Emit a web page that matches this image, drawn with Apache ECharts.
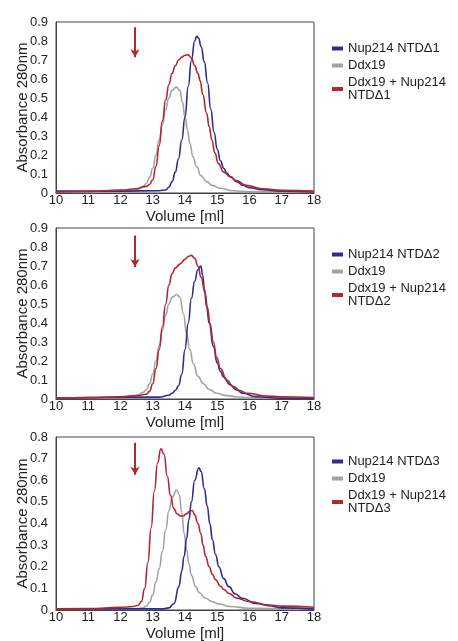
<!DOCTYPE html>
<html>
<head>
    <meta charset="utf-8">
    <title>Ddx19 / Nup214 NTD gel filtration</title>
    <script type="text/javascript" src="https://cdn.jsdelivr.net/npm/echarts@6/dist/echarts.min.js"></script>
    <style>
        html, body { margin: 0; padding: 0; background: #fff; }
    </style>
</head>
<body>
    <div id="main" style="width: 458px;height:641px;"></div>
<script>
    // 三个面板的色谱曲线 [体积 ml, 吸光度]
    var nup1 = [[10,0.01],[12,0.01],[13.2,0.012],[13.4,0.016],[13.5,0.03],[13.6,0.06],[13.7,0.11],[13.8,0.18],[13.9,0.28],[14.0,0.4],[14.1,0.56],[14.2,0.7],[14.3,0.8],[14.36,0.825],[14.42,0.815],[14.5,0.77],[14.6,0.69],[14.7,0.58],[14.8,0.44],[14.9,0.32],[15.0,0.23],[15.1,0.17],[15.2,0.13],[15.3,0.105],[15.4,0.086],[15.6,0.06],[15.8,0.04],[16.0,0.028],[16.4,0.018],[17,0.01],[18,0.006]];
    var ddx1 = [[10,0.005],[12,0.005],[12.3,0.01],[12.5,0.018],[12.7,0.035],[12.8,0.05],[12.9,0.08],[13.0,0.13],[13.1,0.2],[13.2,0.28],[13.3,0.36],[13.4,0.44],[13.5,0.5],[13.6,0.54],[13.73,0.557],[13.84,0.54],[13.92,0.48],[14.0,0.4],[14.08,0.33],[14.15,0.26],[14.25,0.19],[14.36,0.138],[14.5,0.09],[14.67,0.06],[14.85,0.04],[15.09,0.025],[15.5,0.012],[16,0.007],[18,0.005]];
    var mix1 = [[10,0.005],[11,0.008],[12,0.015],[12.5,0.022],[12.8,0.035],[12.9,0.045],[13.0,0.07],[13.1,0.14],[13.2,0.25],[13.3,0.38],[13.4,0.49],[13.5,0.57],[13.6,0.63],[13.7,0.67],[13.8,0.7],[13.9,0.715],[14.0,0.725],[14.1,0.727],[14.2,0.71],[14.3,0.67],[14.4,0.63],[14.47,0.59],[14.55,0.52],[14.67,0.42],[14.75,0.35],[14.83,0.28],[14.93,0.21],[15.03,0.156],[15.2,0.11],[15.4,0.086],[15.6,0.065],[15.9,0.04],[16.4,0.022],[17,0.014],[18,0.01]];

    var nup2 = [[10,0.005],[13.2,0.01],[13.5,0.02],[13.6,0.03],[13.7,0.045],[13.8,0.07],[13.9,0.13],[14.0,0.26],[14.1,0.4],[14.2,0.53],[14.3,0.62],[14.4,0.68],[14.49,0.7],[14.55,0.65],[14.6,0.58],[14.67,0.485],[14.75,0.4],[14.88,0.275],[15.0,0.19],[15.1,0.145],[15.19,0.117],[15.4,0.075],[15.6,0.047],[15.8,0.03],[16.2,0.012],[17,0.004],[18,0.003]];
    var ddx2 = [[10,0.005],[12,0.005],[12.3,0.01],[12.5,0.018],[12.7,0.035],[12.8,0.05],[12.9,0.08],[13.0,0.13],[13.1,0.2],[13.2,0.28],[13.3,0.36],[13.4,0.44],[13.5,0.5],[13.6,0.535],[13.74,0.55],[13.84,0.537],[13.95,0.45],[14.05,0.345],[14.15,0.26],[14.26,0.187],[14.4,0.12],[14.57,0.08],[14.75,0.05],[14.98,0.03],[15.3,0.018],[15.6,0.012],[16,0.007],[18,0.005]];
    var mix2 = [[10,0.005],[11,0.007],[12,0.012],[12.5,0.018],[12.8,0.025],[12.9,0.04],[13.0,0.08],[13.1,0.16],[13.2,0.26],[13.3,0.38],[13.4,0.5],[13.5,0.6],[13.6,0.66],[13.7,0.69],[13.84,0.71],[14.0,0.735],[14.1,0.75],[14.2,0.756],[14.3,0.74],[14.4,0.7],[14.5,0.64],[14.62,0.56],[14.7,0.48],[14.77,0.4],[14.88,0.3],[14.98,0.22],[15.1,0.16],[15.29,0.1],[15.5,0.065],[15.7,0.045],[15.92,0.03],[16.5,0.016],[17,0.012],[18,0.008]];

    var nup3 = [[10,0.005],[13.3,0.005],[13.5,0.01],[13.66,0.03],[13.81,0.108],[13.9,0.18],[13.97,0.247],[14.05,0.33],[14.12,0.417],[14.2,0.5],[14.3,0.6],[14.43,0.657],[14.5,0.64],[14.6,0.56],[14.69,0.48],[14.77,0.4],[14.85,0.325],[14.95,0.255],[15.05,0.2],[15.2,0.145],[15.36,0.108],[15.55,0.075],[15.78,0.054],[16.19,0.03],[16.6,0.02],[17,0.01],[18,0.004]];
    var ddx3 = [[10,0.005],[12.5,0.005],[12.7,0.01],[12.8,0.018],[12.9,0.035],[13.0,0.07],[13.1,0.13],[13.2,0.19],[13.3,0.27],[13.4,0.37],[13.5,0.46],[13.6,0.52],[13.74,0.555],[13.82,0.535],[13.9,0.45],[13.97,0.356],[14.05,0.28],[14.12,0.216],[14.2,0.16],[14.33,0.108],[14.45,0.08],[14.64,0.054],[14.85,0.038],[15.05,0.028],[15.4,0.016],[16,0.008],[18,0.005]];
    var mix3 = [[10,0.005],[11,0.007],[12,0.012],[12.4,0.016],[12.55,0.022],[12.65,0.04],[12.75,0.1],[12.85,0.22],[12.95,0.38],[13.05,0.55],[13.15,0.68],[13.25,0.745],[13.35,0.72],[13.45,0.62],[13.55,0.53],[13.65,0.47],[13.75,0.445],[13.85,0.435],[13.95,0.435],[14.05,0.445],[14.15,0.457],[14.23,0.46],[14.3,0.44],[14.4,0.4],[14.49,0.355],[14.56,0.3],[14.64,0.247],[14.75,0.2],[14.85,0.165],[14.95,0.14],[15.1,0.11],[15.2,0.095],[15.36,0.077],[15.6,0.055],[15.98,0.039],[16.6,0.023],[17,0.018],[18,0.013]];

    // 上样位置箭头 (x, 起点, 终点)
    var arrowX = 12.45;
    var arrowTop = [0.872, 0.861, 0.773];
    var arrowBottom = [0.714, 0.695, 0.626];

    var yMax = [0.9, 0.9, 0.8];
    var constructs = ['NTDΔ1', 'NTDΔ2', 'NTDΔ3'];
    var curves = [[nup1, ddx1, mix1], [nup2, ddx2, mix2], [nup3, ddx3, mix3]];

    var gridTop = [22, 228, 437];
    var gridHeight = [171, 171, 173];
    var legendTop = [37, 243, 450];

    var blue = '#2e2c8e', gray = '#a3a3a3', red = '#b3272c';
    var font = 'Liberation Sans, Arial, Helvetica, sans-serif';

    var chart = echarts.init(document.getElementById('main'));

    var grids = [], xAxes = [], yAxes = [], series = [], legends = [];
    for (var i = 0; i < 3; i++) {
        grids.push({
            left: 56, width: 258, top: gridTop[i], height: gridHeight[i],
            outerBoundsMode: 'none',
            show: true, borderColor: '#444', borderWidth: 1, backgroundColor: 'transparent'
        });
        xAxes.push({
            gridIndex: i, type: 'value', min: 10, max: 18, interval: 1,
            name: 'Volume [ml]', nameLocation: 'middle', nameGap: 16,
            nameTextStyle: { fontSize: 15, color: '#222', fontFamily: font },
            axisLine: { lineStyle: { color: '#444' } },
            axisTick: { show: false },
            splitLine: { show: false },
            axisLabel: { fontSize: 13, color: '#222', margin: 1, fontFamily: font }
        });
        yAxes.push({
            gridIndex: i, type: 'value', min: 0, max: yMax[i], interval: 0.1,
            name: 'Absorbance 280nm', nameLocation: 'middle', nameGap: 26,
            nameMoveOverlap: false,
            nameTextStyle: { fontSize: 15, color: '#222', fontFamily: font },
            axisLine: { show: true, lineStyle: { color: '#444' } },
            axisTick: { show: false },
            splitLine: { show: false },
            axisLabel: { fontSize: 13, color: '#222', margin: 8, fontFamily: font }
        });

        var names = ['Nup214 ' + constructs[i], 'Ddx19', 'Ddx19 + Nup214\n' + constructs[i]];
        var colors = [blue, gray, red];
        for (var j = 0; j < 3; j++) {
            var s = {
                name: names[j], type: 'line', xAxisIndex: i, yAxisIndex: i,
                data: curves[i][j], showSymbol: false, symbol: 'none',
                smooth: 0.5, smoothMonotone: 'x',
                lineStyle: { color: colors[j], width: 1.6 },
                itemStyle: { color: colors[j] },
                z: j === 1 ? 2 : 3
            };
            if (j === 2) {
                s.markLine = {
                    silent: true, symbol: ['none', 'arrow'], symbolSize: [7, 8],
                    label: { show: false },
                    lineStyle: { color: red, width: 2, type: 'solid' },
                    data: [[{ coord: [arrowX, arrowTop[i]] }, { coord: [arrowX, arrowBottom[i]] }]]
                };
            }
            series.push(s);
        }

        legends.push({
            orient: 'vertical', left: 327, top: legendTop[i],
            icon: 'rect', itemWidth: 11, itemHeight: 4, itemGap: 4,
            selectedMode: false,
            textStyle: { fontSize: 13, lineHeight: 13, color: '#222', fontFamily: font },
            data: [
                { name: names[0] },
                { name: names[1] },
                { name: names[2], textStyle: { padding: [0, 0, -13, 0] } }
            ]
        });
    }

    var option = {
        backgroundColor: '#fff',
        animation: false,
        grid: grids,
        xAxis: xAxes,
        yAxis: yAxes,
        legend: legends,
        series: series
    };
    chart.setOption(option);
</script>
</body>
</html>
